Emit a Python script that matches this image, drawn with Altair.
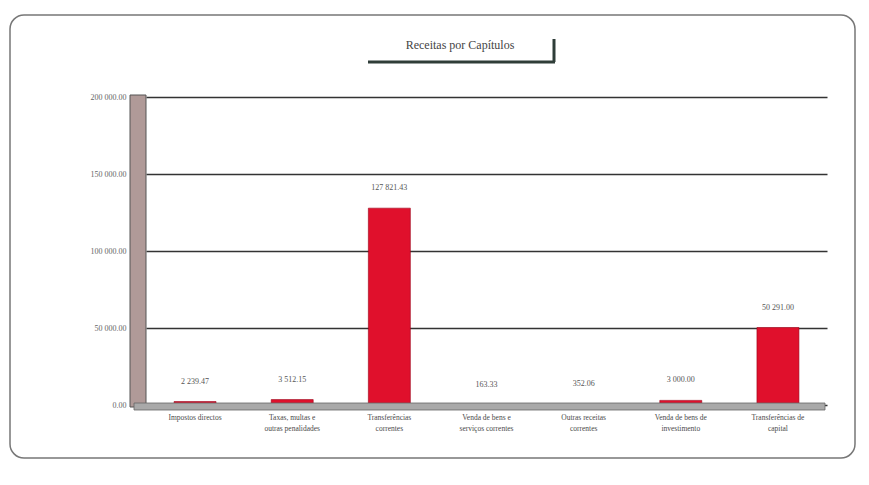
import altair as alt
import pandas as pd

categories = [
    "Impostos directos",
    "Taxas, multas e|outras penalidades",
    "Transferências|correntes",
    "Venda de bens e|serviços correntes",
    "Outras receitas|correntes",
    "Venda de bens de|investimento",
    "Transferências de|capital",
]
values = [2239.47, 3512.15, 127821.43, 163.33, 352.06, 3000.00, 50291.00]
y_ticks = [0, 50000, 100000, 150000, 200000]

df = pd.DataFrame({"cat": categories, "val": values})
df["lbl"] = [f"{v:,.2f}".replace(",", " ") for v in values]

W, H = 681, 308
FONT = "Liberation Serif"

xenc = alt.X("cat:N", sort=None, scale=alt.Scale(paddingInner=0.55, paddingOuter=0.28),
             axis=alt.Axis(title=None, labelAngle=0, labelExpr="split(datum.label, '|')",
                           labelFontSize=7.5, labelColor="#4a4a4a", labelFont=FONT,
                           labelPadding=8, labelLineHeight=11, ticks=False, domain=False))
yscale = alt.Scale(domain=[0, 200000], nice=False)

frame = alt.Chart(pd.DataFrame({"k": [0]})).mark_rect(
    fill=None, stroke="#777", strokeWidth=1.5, cornerRadius=14, clip=False
).encode(x=alt.value(-136), x2=alt.value(709), y=alt.value(-82), y2=alt.value(361))

wall = alt.Chart(pd.DataFrame({"k": [0]})).mark_rect(
    color="#b09a98", stroke="#555", strokeWidth=1, clip=False
).encode(x=alt.value(-16), x2=alt.value(0), y=alt.value(-2), y2=alt.value(H + 2))

floor = alt.Chart(pd.DataFrame({"k": [0]})).mark_rect(
    color="#a9a9a9", stroke="#666", strokeWidth=0.8, clip=False
).encode(x=alt.value(-12), x2=alt.value(W - 2), y=alt.value(H - 2), y2=alt.value(H + 5))

bars = alt.Chart(df).mark_bar(size=42, color="#e0102c", stroke="#9a0018", strokeWidth=0.6).encode(
    x=xenc,
    y=alt.Y("val:Q", scale=yscale,
            axis=alt.Axis(title=None, values=y_ticks, labelFontSize=8, labelColor="#666",
                          labelFont=FONT, labelPadding=20, ticks=False, domain=False,
                          grid=True, gridColor="#333", gridWidth=1.6,
                          labelExpr="replace(format(datum.value, ',.2f'), ',', ' ')")),
)

texts = alt.Chart(df).mark_text(dy=-20, fontSize=8, color="#555", font=FONT).encode(
    x=alt.X("cat:N", sort=None), y=alt.Y("val:Q", scale=yscale), text="lbl:N"
)

title = alt.Chart(pd.DataFrame({"t": ["Receitas por Capítulos"]})).mark_text(
    fontSize=12, color="#444", font=FONT, clip=False
).encode(x=alt.value(314), y=alt.value(-52), text="t:N")

uline = alt.Chart(pd.DataFrame({"k": [0]})).mark_rule(color="#2f3d38", strokeWidth=3).encode(
    x=alt.value(222), x2=alt.value(409), y=alt.value(-35)
)
vline = alt.Chart(pd.DataFrame({"k": [0]})).mark_rule(color="#2f3d38", strokeWidth=3).encode(
    x=alt.value(408), y=alt.value(-58), y2=alt.value(-35)
)

chart = alt.layer(frame, wall, bars, floor, texts, title, uline, vline).properties(
    width=W, height=H,
    autosize=alt.AutoSizeParams(type="none"),
    padding={"left": 138, "top": 89, "right": 34, "bottom": 72},
    background="white",
).configure_view(stroke=None)

chart.save("out.html", embed_options={"renderer": "svg", "actions": False})
